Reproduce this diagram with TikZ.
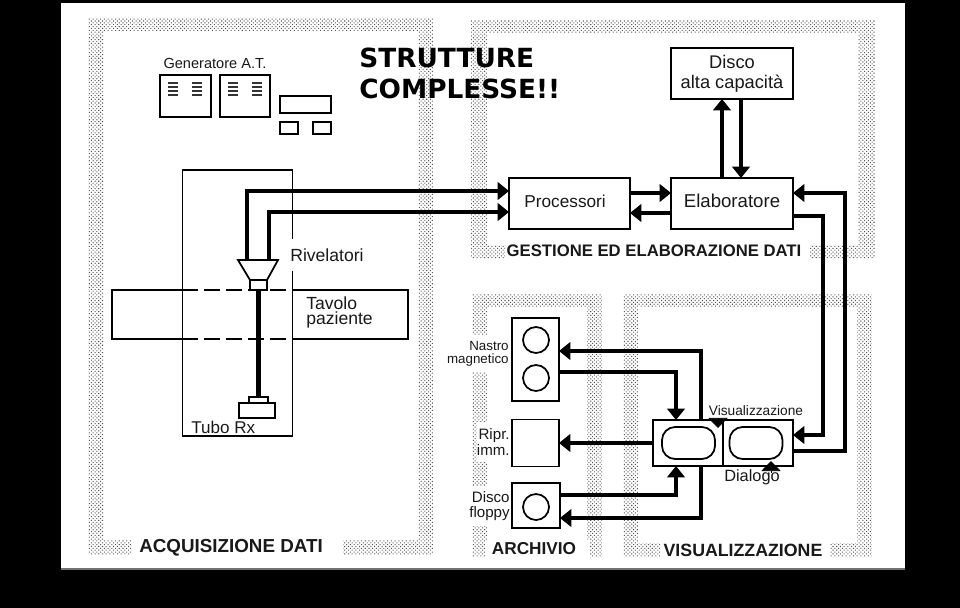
\documentclass[tikz,border=0pt]{standalone}
\usepackage{fontspec}
\setmainfont{Liberation Sans}
\newfontfamily\titolofont{DejaVu Sans}
\usetikzlibrary{arrows.meta,calc,patterns.meta}
\newcommand{\cornice}[4]{\path[cornice] #1 rectangle #2 #3 rectangle #4;}
\tikzset{
  cornice/.style={even odd rule, pattern={Dots[distance=1.5pt,radius=0.42pt,angle=45]}, pattern color=black!65},
  linea/.style={line width=1pt, black},
  scatola/.style 2 args={draw=black, line width=1pt, inner sep=0pt, outer sep=0pt,
    minimum width=#1*0.02cm, minimum height=#2*0.02cm},
  schermo/.style={scatola={53}{32}, rounded corners=7.5pt},
  testo/.style={font=\fontsize{#1}{#1}\selectfont, inner sep=0pt, text=black!90, align=left},
  sezione/.style={font=\fontsize{#1}{#1}\selectfont\bfseries, inner sep=0pt, text=black!90},
  freccia/.style={line width=2.4pt, black, -{Triangle[length=6.5pt,width=10pt]}},
  pieno/.style={line width=2.4pt, black},
  punta/.style={line width=0.4pt, black, -{Triangle[length=5.7pt,width=11pt]}},
}
\begin{document}
\begin{tikzpicture}[x=0.02cm,y=-0.02cm]
    \useasboundingbox (0,0) rectangle (960,608);
    % Fondo
    \fill[black] (0,0) rectangle (960,608);
    \fill[white] (61,3) rectangle (905,569);
    \fill[black!55] (61,568) rectangle (905,569.5);

    % Cornici
    \cornice{(88,18)}{(433,555)}{(103,31)}{(418,540)}
    \cornice{(471,20)}{(875,258)}{(487,33)}{(858,245)}
    \cornice{(472,294)}{(602,557)}{(487,307)}{(587,543)}
    \cornice{(623,294)}{(872,557)}{(638,307)}{(857,543)}
    \fill[white] (132,536) rectangle (343,558);
    \fill[white] (505,243) rectangle (810,260);
    \fill[white] (485,540) rectangle (590,559);
    \fill[white] (660,540) rectangle (830,559);

    % Titolo
    \node[anchor=north west, inner sep=0pt, align=left, text=black,
      font=\titolofont\fontsize{15}{17.6}\selectfont\bfseries] (titolo) at (359,47.5) {STRUTTURE\\COMPLESSE!!};

    % Generatore
    \node[testo=8.3] (gener) at (215,63) {Generatore A.T.};
    \node[scatola={51}{42}] (genA) at (185.5,96) {};
    \node[scatola={50}{42}] (genB) at (245,96) {};
    \node[scatola={51}{17}] (genC) at (305.5,104.5) {};
    \node[scatola={18}{12}] (genD) at (289,128) {};
    \node[scatola={18}{12}] (genE) at (322,128) {};
    \foreach \x in {168,192,228,252}
      \foreach \y in {83,87,91,95}
        \draw[line width=1.5pt, black!80] (\x,\y) -- (\x+10,\y);

    % Portale e tavolo
    \node[scatola={110}{266}] (portale) at (237.5,303) {};
    \node[minimum width=296*0.02cm, minimum height=49*0.02cm, inner sep=0pt, outer sep=0pt] (tavolo) at (260,314.5) {};
    \draw[linea] (portale.west |- tavolo.north) -- (tavolo.north west) -- (tavolo.south west) -- (portale.west |- tavolo.south);
    \draw[linea] (portale.east |- tavolo.north) -- (tavolo.north east) -- (tavolo.south east) -- (portale.east |- tavolo.south);
    \draw[linea, dash pattern=on 9pt off 3.5pt] (portale.west |- tavolo.north) -- (portale.east |- tavolo.north);
    \draw[linea, dash pattern=on 9pt off 3.5pt] (portale.west |- tavolo.south) -- (portale.east |- tavolo.south);
    \node[testo=10, anchor=north west] (tavololab) at (306,296) {Tavolo\\[-1.5pt]paziente};
    \node[testo=10, fill=white, anchor=west, minimum height=32*0.02cm] (rivelab) at (290,255) {Rivelatori};
    \node[testo=9.7, anchor=west] (tubolab) at (191,427) {Tubo Rx};

    % Rivelatori e tubo
    \draw[linea, fill=white] (238,260) -- (278,260) -- (267,280) -- (250,280) -- cycle;
    \node[scatola={17}{10}, fill=white] (collim) at (258.5,285) {};
    \node[scatola={19}{6}] (tuboA) at (258.5,400) {};
    \node[scatola={36}{15}] (tuboB) at (257,410.5) {};
    \draw[pieno] (collim.south) -- (tuboA.north);
    \coordinate (rivA) at (247,260);
    \coordinate (rivB) at (269,260);

    % Gestione
    \node[scatola={121}{51}, text depth=3pt, font=\fontsize{9.8}{10}\selectfont, text=black!90] (proc) at (569.5,203.5) {Processori\hspace*{5pt}};
    \node[scatola={122}{51}, text depth=3pt, font=\fontsize{10.6}{11}\selectfont, text=black!90] (elab) at (732,203.5) {Elaboratore};
    \node[scatola={122}{51}, align=center, font=\fontsize{10.4}{11.3}\selectfont, text=black!90] (disco) at (732,73.5) {Disco\\alta capacità};

    % Archivio
    \node[scatola={47}{83}] (nastro) at (535.5,359.5) {};
    \node[scatola={47}{47}] (ripr) at (535.5,443) {};
    \node[scatola={48}{45}] (floppy) at (536,505.5) {};
    \node[scatola={26}{26}, circle] (bobA) at (536,340) {};
    \node[scatola={26}{26}, circle] (bobB) at (536,378) {};
    \node[scatola={26}{26}, circle] (bobC) at (536,507) {};
    \node[testo=7.6, align=right, fill=white, anchor=east, minimum height=37*0.02cm] (nastrolab) at (509,353.5) {Nastro\\magnetico};
    \node[testo=8.6, align=right, fill=white, anchor=east, minimum height=40*0.02cm] (riprlab) at (510,442) {Ripr.\\imm.};
    \node[testo=8.6, align=right, fill=white, anchor=east, minimum height=40*0.02cm] (floppylab) at (510,506) {Disco\\floppy};

    % Visualizzazione
    \node[scatola={140}{46}] (visual) at (723,443) {};
    \draw[linea] (visual.north) -- (visual.south);
    \node[schermo] (schermoA) at (688.5,443) {};
    \node[schermo] (schermoB) at (756,443) {};
    \node[testo=7.8] (vislab) at (756,411) {Visualizzazione};
    \node[testo=9.3] (dialab) at (752,477) {Dialogo};
    \coordinate (visA) at (718,418);
    \coordinate (visB) at (718,428);
    \coordinate (diaA) at (771,473);
    \coordinate (diaB) at (771,461);

    % Sezioni
    \node[sezione=10.7] (secA) at (231,548) {ACQUISIZIONE DATI};
    \node[sezione=9.5] (secB) at (654,251) {GESTIONE ED ELABORAZIONE DATI};
    \node[sezione=9.8] (secC) at (534,549) {ARCHIVIO};
    \node[sezione=10.1] (secD) at (743,550) {VISUALIZZAZIONE};

    % Collegamenti
    \draw[freccia] (rivA) |- ($(proc.west)+(0,-12.5)$);
    \draw[freccia] (rivB) |- ($(proc.west)+(0,8.5)$);
    \draw[freccia] ($(proc.east)+(0,-10.5)$) -- ($(elab.west)+(0,-10.5)$);
    \draw[freccia] ($(elab.west)+(0,9.5)$) -- ($(proc.east)+(0,9.5)$);
    \draw[freccia] ($(elab.north)+(-10,0)$) -- ($(disco.south)+(-10,0)$);
    \draw[freccia] ($(disco.south)+(9,0)$) -- ($(elab.north)+(9,0)$);
    \coordinate (viaA) at (823,330);
    \coordinate (viaB) at (845,330);
    \draw[freccia] ($(elab.east)+(0,12.5)$) -| (viaA) |- ($(visual.east)+(0,-8)$);
    \draw[freccia] ($(visual.east)+(0,8)$) -| (viaB) |- ($(elab.east)+(0,-10.5)$);
    \draw[freccia] ($(visual.north)+(-22,0)$) |- ($(nastro.east)+(0,-8.5)$);
    \draw[freccia] ($(nastro.east)+(0,12.5)$) -| ($(visual.north)+(-47,0)$);
    \draw[freccia, line width=1.8pt] (visual.west) -- (ripr.east);
    \draw[freccia] ($(floppy.east)+(0,-10.5)$) -| ($(visual.south)+(-47,0)$);
    \draw[freccia] ($(visual.south)+(-22,0)$) |- ($(floppy.east)+(0,12.5)$);
    \draw[punta] (visA) -- (visB);
    \draw[punta] (diaA) -- (diaB);
\end{tikzpicture}
\end{document}
